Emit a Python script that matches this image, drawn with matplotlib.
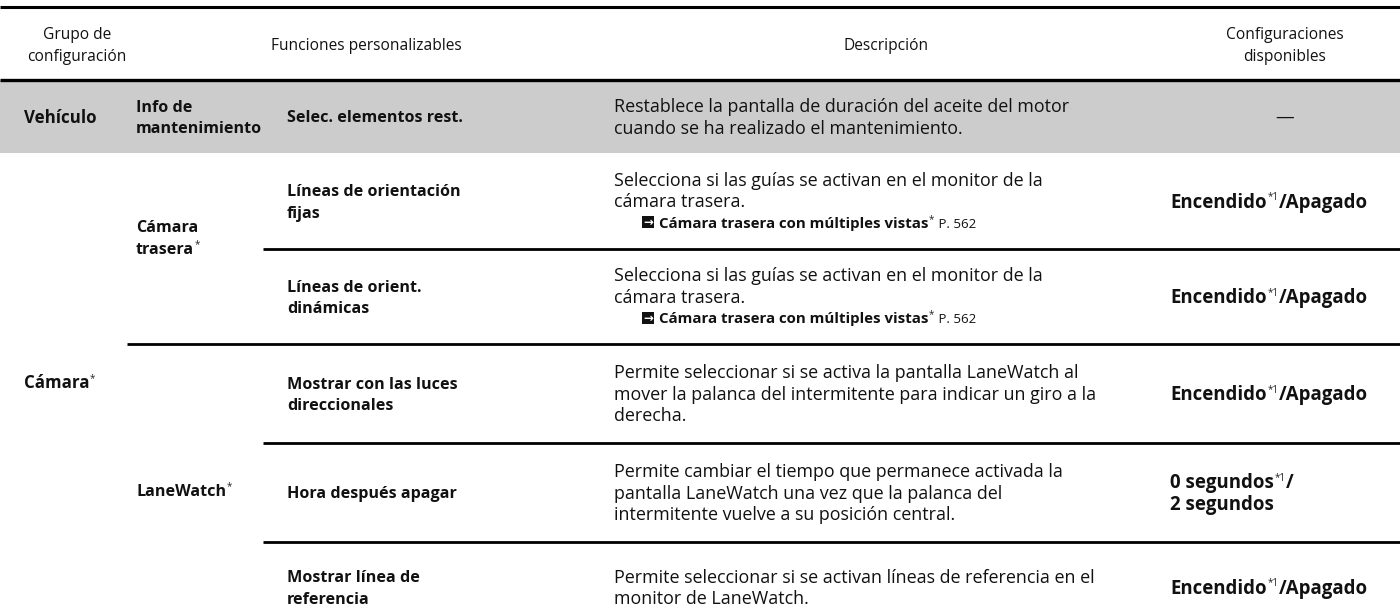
import matplotlib
matplotlib.use("Agg")
import matplotlib.pyplot as plt
from matplotlib.patches import Rectangle

FONT = ["Open Sans", "DejaVu Sans"]
plt.rcParams['font.family'] = FONT

W, H = 1400, 612
FS_HEAD = 11.2
FS_NAME = 11.6
FS_DESC = 12.9
FS_CONF = 13.4
FS_G1 = 12.2
FS_LINK = 10.8
SUP = 7.0

# ---------------- data ----------------
headers = ["Grupo de\nconfiguración", "Funciones personalizables", "Descripción",
           "Configuraciones\ndisponibles"]

group1 = ["Vehículo", "Cámara"]
group2 = ["Info de\nmantenimiento", "Cámara\ntrasera", "LaneWatch"]
functions = ["Selec. elementos rest.",
             "Líneas de orientación\nfijas",
             "Líneas de orient.\ndinámicas",
             "Mostrar con las luces\ndireccionales",
             "Hora después apagar",
             "Mostrar línea de\nreferencia"]
descriptions = [
    ["Restablece la pantalla de duración del aceite del motor",
     "cuando se ha realizado el mantenimiento."],
    ["Selecciona si las guías se activan en el monitor de la",
     "cámara trasera."],
    ["Selecciona si las guías se activan en el monitor de la",
     "cámara trasera."],
    ["Permite seleccionar si se activa la pantalla LaneWatch al",
     "mover la palanca del intermitente para indicar un giro a la",
     "derecha."],
    ["Permite cambiar el tiempo que permanece activada la",
     "pantalla LaneWatch una vez que la palanca del",
     "intermitente vuelve a su posición central."],
    ["Permite seleccionar si se activan líneas de referencia en el",
     "monitor de LaneWatch."],
]
ref_link = "Cámara trasera con múltiples vistas"
ref_page = "P. 562"
has_ref = [False, True, True, False, False, False]
settings = ["—", "Encendido|Apagado", "Encendido|Apagado", "Encendido|Apagado",
            "0 segundos|2 segundos", "Encendido|Apagado"]

# ---------------- layout ----------------
top_line = 7
head_line = 80
row_edges = [80, 153, 249, 344, 443, 542, 632]
LS = 21.5  # line spacing px

fig = plt.figure(figsize=(W / 100, H / 100), dpi=100)
ax = fig.add_axes([0, 0, 1, 1])
ax.set_xlim(0, W)
ax.set_ylim(H, 0)
ax.axis("off")
fig.canvas.draw()
renderer = fig.canvas.get_renderer()

def px(pt):
    return pt * 100 / 72.0

def base(yc, fs):
    return yc + px(fs) * 0.36

def run(x, yc, parts, fs):
    """parts: list of (text, weight, kind) kind in 'n','sup','small'"""
    yb = base(yc, fs)
    for txt, wt, kind in parts:
        if kind == "sup":
            t = ax.text(x + 0.5, yb - px(fs) * 0.40, txt, fontsize=SUP, fontweight="normal",
                        va="baseline", ha="left", color="#222222")
        elif kind == "small":
            t = ax.text(x, yb, txt, fontsize=fs * 0.88, fontweight=wt,
                        va="baseline", ha="left", color="#111111")
        else:
            t = ax.text(x, yb, txt, fontsize=fs, fontweight=wt,
                        va="baseline", ha="left", color="#111111")
        bb = t.get_window_extent(renderer)
        x = bb.x1 + (0.5 if kind == "sup" else 0)
    return x

def block(x, yc, lines, fs, weight="normal", sup_last=False):
    n = len(lines)
    y0 = yc - (n - 1) * LS / 2
    for i, ln in enumerate(lines):
        parts = [(ln, weight, "n")]
        if sup_last and i == n - 1:
            parts.append(("*", weight, "sup"))
        run(x, y0 + i * LS, parts, fs)

def centered(xc, yc, lines, fs):
    n = len(lines)
    y0 = yc - (n - 1) * LS / 2
    for i, ln in enumerate(lines):
        ax.text(xc, base(y0 + i * LS, fs), ln, fontsize=fs, ha="center", va="baseline",
                color="#111111")

# gray band
ax.add_patch(Rectangle((0, row_edges[0]), W, row_edges[1] - row_edges[0],
                       facecolor="#cccccc", edgecolor="none", zorder=0))

# horizontal rules
ax.plot([0, W], [top_line, top_line], color="black", lw=2.2, solid_capstyle="butt")
ax.plot([0, W], [head_line, head_line], color="black", lw=2.4, solid_capstyle="butt")
rule_starts = [263, 127, 263, 263]
for yy, xs in zip(row_edges[2:-1], rule_starts):
    ax.plot([xs, W], [yy, yy], color="black", lw=2.0, solid_capstyle="butt")

# headers
hy = (top_line + head_line) / 2 + 1
centered(77, hy, headers[0].split("\n"), FS_HEAD)
centered(366, hy, [headers[1]], FS_HEAD)
centered(886, hy, [headers[2]], FS_HEAD)
centered(1285, hy, headers[3].split("\n"), FS_HEAD)

# group column 1
block(24, (row_edges[0] + row_edges[1]) / 2, [group1[0]], FS_G1, "bold")
block(24, 382, [group1[1]], FS_G1, "bold", sup_last=True)

# group column 2
block(136, (row_edges[0] + row_edges[1]) / 2, group2[0].split("\n"), FS_NAME, "bold")
block(136, 237, group2[1].split("\n"), FS_NAME, "bold", sup_last=True)
block(136, 490, group2[2].split("\n"), FS_NAME, "bold", sup_last=True)

# rows
for i in range(len(functions)):
    yc = (row_edges[i] + row_edges[i + 1]) / 2
    if i == 5:
        yc = 587
    block(287, yc, functions[i].split("\n"), FS_NAME, "bold")

    dl = list(descriptions[i])
    n = len(dl) + (1 if has_ref[i] else 0)
    y0 = yc - (n - 1) * LS / 2
    for j, ln in enumerate(dl):
        run(614, y0 + j * LS, [(ln, "normal", "n")], FS_DESC)
    if has_ref[i]:
        yr = y0 + len(dl) * LS
        ax.add_patch(Rectangle((642, yr - 6.5), 12, 12, facecolor="#111111",
                               edgecolor="none"))
        ax.text(648, yr, "→", fontsize=8.5, color="white", fontweight="bold",
                ha="center", va="center", family="DejaVu Sans")
        run(659, yr, [(ref_link, "bold", "n"), ("*", "bold", "sup"),
                      (" " + ref_page, "normal", "small")], FS_LINK)

    s = settings[i]
    if s == "—":
        ax.text(1285, base(yc, FS_CONF), s, fontsize=FS_CONF, ha="center",
                va="baseline", color="#111111")
    elif s.startswith("0"):
        a, b = s.split("|")
        run(1170, yc - LS / 2, [(a, "bold", "n"), ("*1", "normal", "sup"),
                                ("/", "bold", "n")], FS_CONF)
        run(1170, yc + LS / 2, [(b, "bold", "n")], FS_CONF)
    else:
        a, b = s.split("|")
        run(1170, yc, [(a, "bold", "n"), ("*1", "normal", "sup"),
                       ("/" + b, "bold", "n")], FS_CONF)

fig.savefig("out.png", dpi=100)
